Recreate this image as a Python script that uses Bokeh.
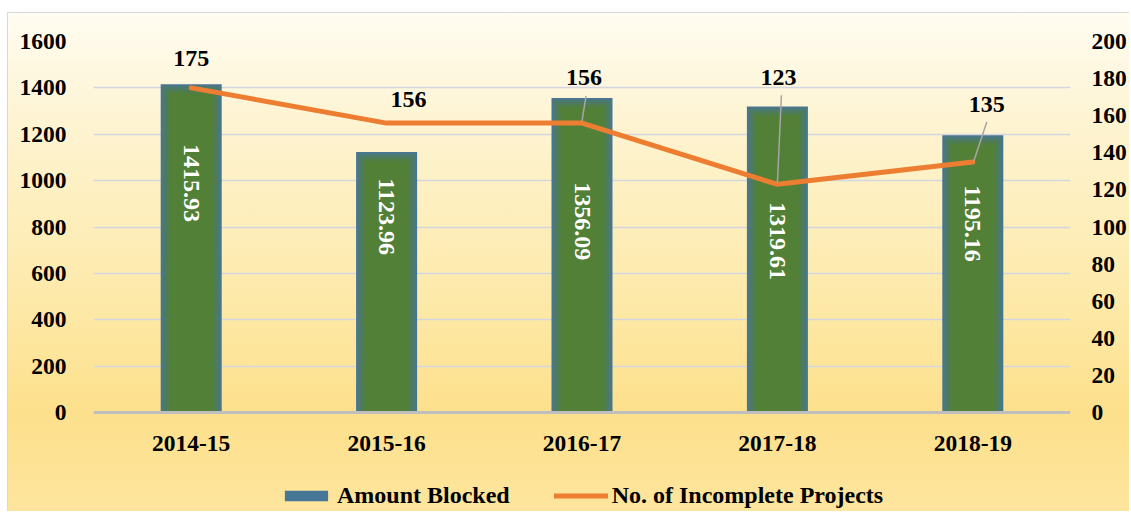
import numpy as np
from bokeh.plotting import figure
from bokeh.models import (Range1d, LinearAxis, FixedTicker, Legend, LegendItem,
                          ColumnDataSource, Span)
from bokeh.embed import file_html
from bokeh.resources import INLINE
from bokeh.core.properties import value

# ---------------- data ----------------
years = ["2014-15", "2015-16", "2016-17", "2017-18", "2018-19"]
amount_blocked = [1415.93, 1123.96, 1356.09, 1319.61, 1195.16]
incomplete_projects = [175, 156, 156, 123, 135]
left_ticks = [0, 200, 400, 600, 800, 1000, 1200, 1400, 1600]
right_ticks = [0, 20, 40, 60, 80, 100, 120, 140, 160, 180, 200]

# ---------------- layout ----------------
FL, FT, FW = 93, 41, 977
PLOT_H = 371          # px from value 0 to top tick
EXTRA_H = 99          # px below value 0 kept inside the frame (axis labels + legend)
FH = PLOT_H + EXTRA_H
XMIN, XMAX = -0.5, 4.5
YL_MAX, YR_MAX = 1600, 200
px_x = (XMAX - XMIN) / FW
px_yl = YL_MAX / PLOT_H
px_yr = YR_MAX / PLOT_H

FONT = value("Liberation Serif")
TICK_FS = "23.5px"

p = figure(frame_width=FW, frame_height=FH, output_backend="svg", toolbar_location=None,
           x_range=Range1d(XMIN, XMAX), y_range=Range1d(-EXTRA_H * px_yl, YL_MAX),
           min_border_left=FL, min_border_top=FT,
           min_border_right=53, min_border_bottom=0)
p.extra_y_ranges = {"right": Range1d(-EXTRA_H * px_yr, YR_MAX)}
p.border_fill_color = None
p.background_fill_color = None
p.outline_line_color = None
p.styles = {
    "background": "linear-gradient(#d9d9d9,#d9d9d9) 7px 12px / 1px 100% no-repeat, "
                  "linear-gradient(#d9d9d9,#d9d9d9) 7px 12px / 100% 1px no-repeat, "
                  "linear-gradient(to bottom, #fffcf1 0px, #fef4d2 110px, #fde9a8 290px, "
                  "#fde08c 400px, #fee6a0 514px) 8px 13px / 100% 100% no-repeat, #ffffff",
}

# grid
p.xgrid.visible = False
p.ygrid.ticker = FixedTicker(ticks=left_ticks)
p.ygrid.grid_line_color = "#d3d6de"
p.ygrid.grid_line_width = 1.4

# bars with soft edge gradient (blue-teal edge -> green centre)
xs = list(range(len(years)))
edge = np.array([72, 118, 150])
mid = np.array([82, 128, 55])
bar_w = 61 * px_x
n_layers = 14
outer = None
for k in range(n_layers):
    t = k / (n_layers - 1)
    c = edge + (mid - edge) * (t ** 0.8)
    col = "#%02x%02x%02x" % tuple(int(round(v)) for v in c)
    inset = k * 0.75
    r = p.vbar(x=xs, top=[v - inset * px_yl for v in amount_blocked],
               width=bar_w - 2 * inset * px_x, bottom=0,
               fill_color=col, line_color=None)
    if k == 0:
        outer = r

# baseline at zero
p.add_layout(Span(location=0, dimension="width", line_color="#bfbfbf", line_width=3))

# bar value labels (rotated)
bar_label_y = [990, 845, 825, 740, 815]
p.text(x=xs, y=bar_label_y, text=["%.2f" % v for v in amount_blocked],
       angle=-np.pi / 2, text_align="center", text_baseline="middle",
       text_color="white", text_font=FONT, text_font_style="bold",
       text_font_size=value("24px"))

# line on right axis
ln = p.line(x=xs, y=incomplete_projects, y_range_name="right",
            line_color="#ed7d31", line_width=5, line_cap="round", line_join="round")

# leader lines (label -> point), offsets in px
lead_idx = [2, 3, 4]
lead_start = [(4, -27), (4, -89), (14, -40)]
lead_end = [(0, -2), (0, -1), (1, -1)]
p.segment(x0=[lead_idx[i] + lead_start[i][0] * px_x for i in range(3)],
          y0=[incomplete_projects[lead_idx[i]] - lead_start[i][1] * px_yr for i in range(3)],
          x1=[lead_idx[i] + lead_end[i][0] * px_x for i in range(3)],
          y1=[incomplete_projects[lead_idx[i]] - lead_end[i][1] * px_yr for i in range(3)],
          y_range_name="right", line_color="#a6a6a6", line_width=1.5)

# line value labels
lab_dx = [0, 22, 2, 1, 14]
lab_dy = [-29, -24, -46, -107, -58]
src = ColumnDataSource(dict(x=xs, y=incomplete_projects,
                            t=[str(v) for v in incomplete_projects],
                            dx=lab_dx, dy=lab_dy))
p.text(x="x", y="y", text="t", x_offset="dx", y_offset="dy", source=src,
       y_range_name="right", text_align="center", text_baseline="middle",
       text_color="black", text_font=FONT, text_font_style="bold",
       text_font_size=value("24px"))

# axes
def style_axis(a, standoff):
    a.major_tick_line_color = None
    a.minor_tick_line_color = None
    a.major_label_standoff = standoff
    a.major_label_text_font = "Liberation Serif"
    a.major_label_text_font_style = "bold"
    a.major_label_text_font_size = TICK_FS
    a.major_label_text_color = "black"

ax = p.xaxis[0]
ax.ticker = FixedTicker(ticks=xs)
ax.major_label_overrides = {i: y for i, y in enumerate(years)}
ax.axis_line_color = None
style_axis(ax, 17 - EXTRA_H)

ay = p.yaxis[0]
ay.ticker = FixedTicker(ticks=left_ticks)
ay.axis_line_color = None
style_axis(ay, 21)

ar = LinearAxis(y_range_name="right", ticker=FixedTicker(ticks=right_ticks))
ar.axis_line_color = None
style_axis(ar, 15)
p.add_layout(ar, "right")

legend = Legend(items=[LegendItem(label="Amount Blocked", renderers=[outer]),
                       LegendItem(label="No. of Incomplete Projects", renderers=[ln])],
                orientation="horizontal", location=(186, 2),
                background_fill_alpha=0, border_line_alpha=0,
                label_text_font="Liberation Serif", label_text_font_style="bold",
                label_text_font_size="24px", label_text_color="black",
                glyph_width=54, glyph_height=13, spacing=44, label_standoff=4,
                padding=0, margin=0)
p.add_layout(legend, "center")

open("out.html", "w").write(file_html(p, INLINE))
